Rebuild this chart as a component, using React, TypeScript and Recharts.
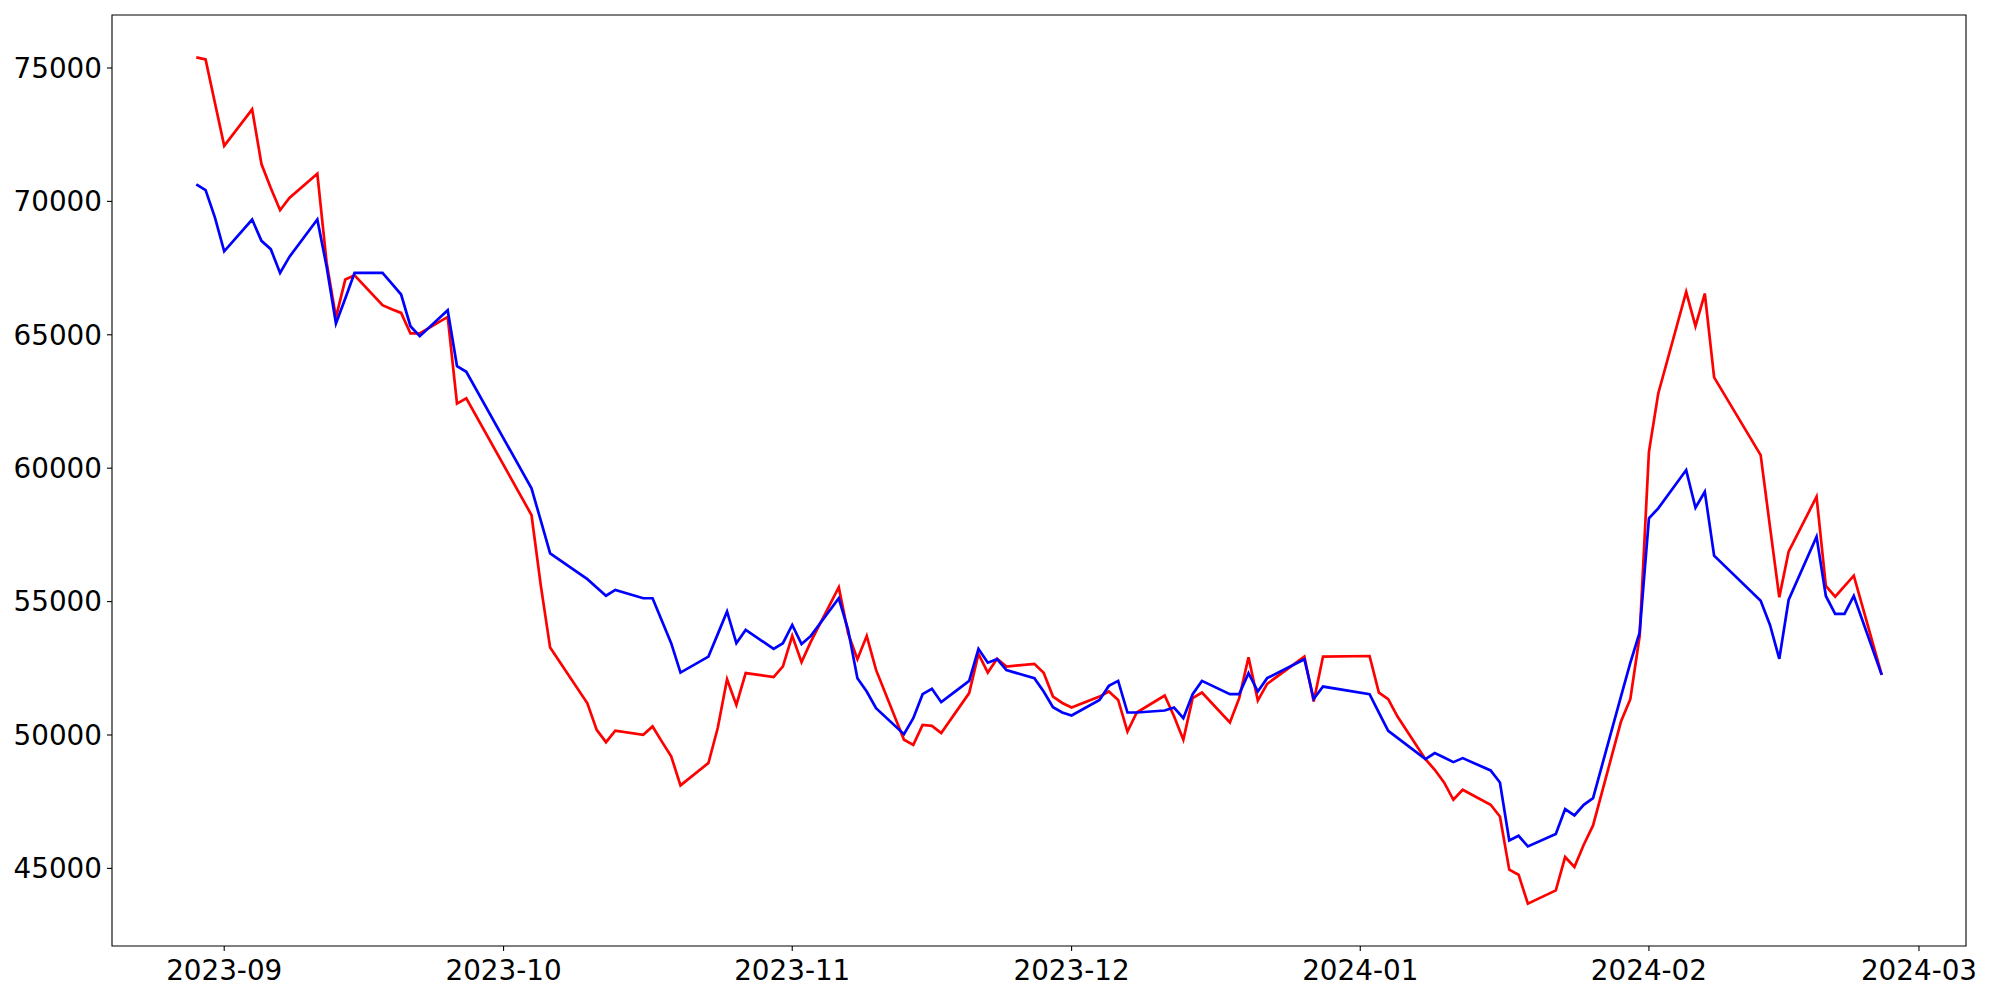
import React from "react";
import { LineChart, Line, XAxis, YAxis, ReferenceArea } from "recharts";

// Trading dates (Korean market calendar)
const dates: string[] = [
  "2023-08-29", "2023-08-30", "2023-08-31",
  "2023-09-01", "2023-09-04", "2023-09-05", "2023-09-06", "2023-09-07", "2023-09-08", "2023-09-11", "2023-09-12", "2023-09-13", "2023-09-14", "2023-09-15", "2023-09-18", "2023-09-19", "2023-09-20", "2023-09-21", "2023-09-22", "2023-09-25", "2023-09-26", "2023-09-27",
  "2023-10-04", "2023-10-05", "2023-10-06", "2023-10-10", "2023-10-11", "2023-10-12", "2023-10-13", "2023-10-16", "2023-10-17", "2023-10-18", "2023-10-19", "2023-10-20", "2023-10-23", "2023-10-24", "2023-10-25", "2023-10-26", "2023-10-27", "2023-10-30", "2023-10-31",
  "2023-11-01", "2023-11-02", "2023-11-03", "2023-11-06", "2023-11-07", "2023-11-08", "2023-11-09", "2023-11-10", "2023-11-13", "2023-11-14", "2023-11-15", "2023-11-16", "2023-11-17", "2023-11-20", "2023-11-21", "2023-11-22", "2023-11-23", "2023-11-24", "2023-11-27", "2023-11-28", "2023-11-29", "2023-11-30",
  "2023-12-01", "2023-12-04", "2023-12-05", "2023-12-06", "2023-12-07", "2023-12-08", "2023-12-11", "2023-12-12", "2023-12-13", "2023-12-14", "2023-12-15", "2023-12-18", "2023-12-19", "2023-12-20", "2023-12-21", "2023-12-22", "2023-12-26", "2023-12-27", "2023-12-28",
  "2024-01-02", "2024-01-03", "2024-01-04", "2024-01-05", "2024-01-08", "2024-01-09", "2024-01-10", "2024-01-11", "2024-01-12", "2024-01-15", "2024-01-16", "2024-01-17", "2024-01-18", "2024-01-19", "2024-01-22", "2024-01-23", "2024-01-24", "2024-01-25", "2024-01-26", "2024-01-29", "2024-01-30", "2024-01-31",
  "2024-02-01", "2024-02-02", "2024-02-05", "2024-02-06", "2024-02-07", "2024-02-08", "2024-02-13", "2024-02-14", "2024-02-15", "2024-02-16", "2024-02-19", "2024-02-20", "2024-02-21", "2024-02-22", "2024-02-23", "2024-02-26",
];

const redSeries: number[] = [
  75400, 75320, 73700,
  72080, 73450, 71400, 70500, 69670, 70130, 71040, 67700, 65650, 67070, 67230, 66110, 65960, 65820, 65050, 65050, 65670, 62420, 62615,
  58245, 55600, 53275, 51190, 50190, 49730, 50160, 50010, 50320, 49750, 49200, 48110, 48950, 50260, 52090, 51130, 52320, 52170, 52570,
  53715, 52730, 53500, 55540, 53810, 52840, 53715, 52440, 49820, 49630, 50380, 50340, 50070, 51570, 53040, 52340, 52860, 52565, 52665, 52330, 51440, 51200,
  51030, 51440, 51630, 51316, 50130, 50842, 51478, 50700, 49820, 51380, 51590, 50467, 51380, 52915, 51290, 51916, 52940, 51253, 52940,
  52960, 51590, 51343, 50692, 49095, 48695, 48220, 47571, 47946, 47384, 46946, 44950, 44763, 43677, 44175, 45426, 45051, 45886, 46609, 50504, 51343, 53700,
  60615, 62802, 66607, 65323, 66547, 63402, 60490, 57800, 55163, 56870, 58929, 55586, 55186, 55580, 55973, 52253,
];

const blueSeries: number[] = [
  70640, 70420, 69400,
  68130, 69320, 68520, 68210, 67320, 67920, 69320, 67550, 65420, 66360, 67320, 67320, 66920, 66510, 65320, 64950, 65920, 63825, 63612,
  59245, 58030, 56810, 55840, 55530, 55220, 55440, 55125, 55125, 54280, 53440, 52340, 52940, 53780, 54630, 53440, 53940, 53230, 53440,
  54125, 53410, 53713, 55125, 53940, 52130, 51630, 51005, 50030, 50630, 51530, 51730, 51230, 52030, 53230, 52710, 52840, 52430, 52130, 51630, 51043, 50842,
  50730, 51316, 51840, 52028, 50842, 50842, 50917, 51028, 50630, 51530, 52028, 51530, 51530, 52316, 51630, 52130, 52840, 51350, 51815,
  51530, 50840, 50156, 49893, 49095, 49320, 49155, 48983, 49133, 48670, 48220, 46048, 46223, 45823, 46288, 47224, 46983, 47384, 47634, 51450, 52700, 53836,
  58121, 58496, 59930, 58519, 59118, 56721, 55030, 54124, 52853, 55061, 57434, 55211, 54537, 54537, 55211, 52253,
];

const monthTicks: string[] = ["2023-09-01", "2023-10-01", "2023-11-01", "2023-12-01", "2024-01-01", "2024-02-01", "2024-03-01"];
const yTicks: number[] = [45000, 50000, 55000, 60000, 65000, 70000, 75000];

const toDay = (s: string) => {
  const [y, m, d] = s.split("-").map(Number);
  return Date.UTC(y, m - 1, d) / 86400000;
};

const data = dates.map((d, i) => ({ t: toDay(d), red: redSeries[i], blue: blueSeries[i] }));

const tMin = toDay(dates[0]);
const tMax = toDay(dates[dates.length - 1]);
const tPad = (tMax - tMin) * 0.05;
const xDomain: [number, number] = [tMin - tPad, tMax + tPad];

const allVals = [...redSeries, ...blueSeries];
const vMin = Math.min(...allVals);
const vMax = Math.max(...allVals);
const vPad = (vMax - vMin) * 0.05;
const yDomain: [number, number] = [vMin - vPad, vMax + vPad];

const xTickVals = monthTicks.map(toDay);
const fmtMonth = (v: number) => {
  const dt = new Date(v * 86400000);
  const m = dt.getUTCMonth() + 1;
  return `${dt.getUTCFullYear()}-${m < 10 ? "0" + m : m}`;
};

const tickStyle = { fill: "#000", fontSize: 27.8, fontFamily: "DejaVu Sans" };

export default function App() {
  return (
    <div style={{ position: "absolute", left: 0, top: 0, width: 2000, height: 1000, background: "#fff" }}>
      <LineChart width={2000} height={1000} data={data} margin={{ top: 15, right: 34, bottom: 0, left: 0 }}>
        <XAxis
          dataKey="t"
          type="number"
          domain={xDomain}
          ticks={xTickVals}
          tickFormatter={fmtMonth}
          allowDataOverflow
          height={54}
          axisLine={false}
          tickLine={{ stroke: "#000", strokeWidth: 1.1 }}
          tickSize={5}
          tickMargin={9}
          tick={tickStyle}
          interval={0}
        />
        <YAxis
          type="number"
          domain={yDomain}
          ticks={yTicks}
          allowDataOverflow
          width={112}
          axisLine={false}
          tickLine={{ stroke: "#000", strokeWidth: 1.1 }}
          tickSize={5}
          tickMargin={5}
          tick={tickStyle}
          interval={0}
        />
        <ReferenceArea
          x1={xDomain[0]}
          x2={xDomain[1]}
          y1={yDomain[0]}
          y2={yDomain[1]}
          fill="none"
          stroke="#000"
          strokeWidth={1.1}
          ifOverflow="visible"
        />
        <Line type="linear" dataKey="red" stroke="#ff0000" strokeWidth={2.7} dot={false} isAnimationActive={false} />
        <Line type="linear" dataKey="blue" stroke="#0000ff" strokeWidth={2.7} dot={false} isAnimationActive={false} />
      </LineChart>
    </div>
  );
}
